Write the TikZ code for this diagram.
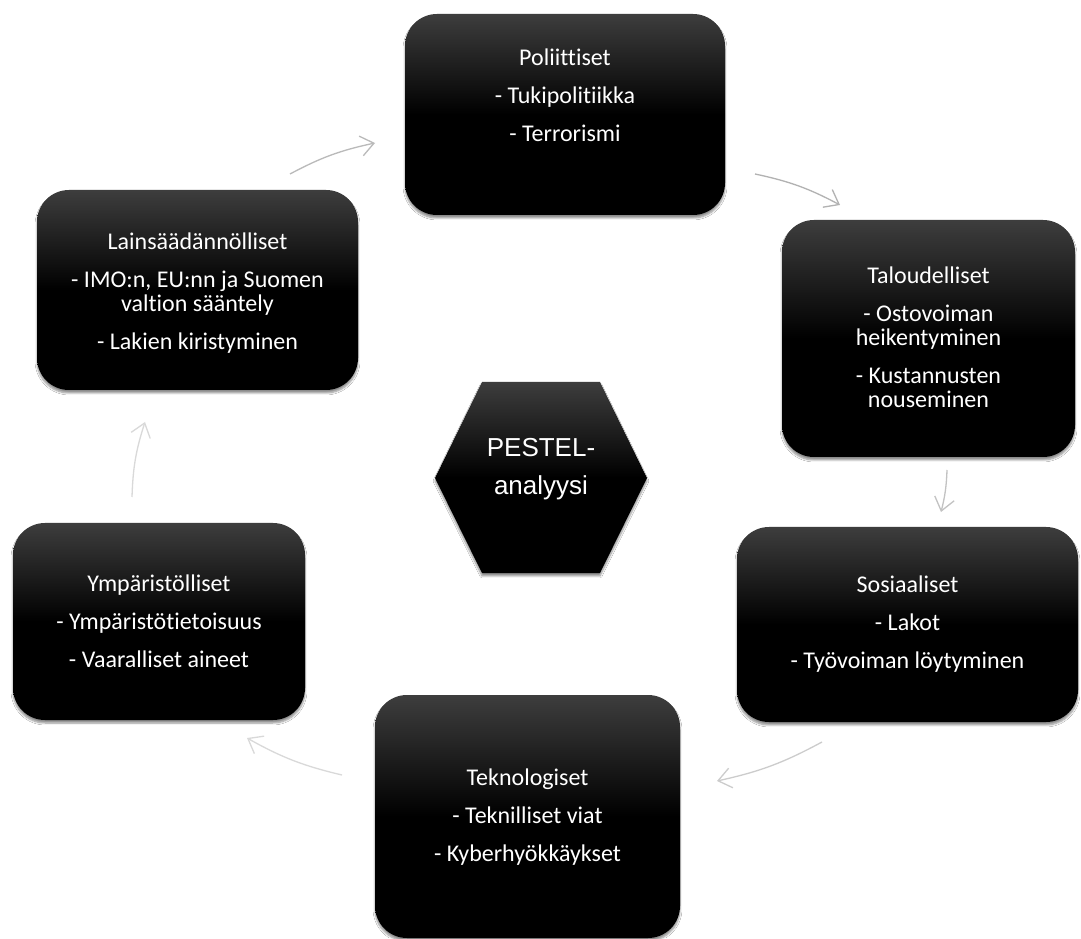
\documentclass[tikz,border=0pt]{standalone}
\usepackage{fontspec}
\setmainfont{Carlito}[Ligatures=NoCommon]
\newfontfamily\arialfont{Liberation Sans}
\usetikzlibrary{arrows.meta,shadows.blur}
\begin{document}
\begin{tikzpicture}[x=1pt,y=1pt,
  boxshade/.style={top color=black!76, bottom color=black, middle color=black,
    blur shadow={shadow xshift=0pt,shadow yshift=-3pt,shadow blur steps=6,shadow opacity=45}},
  box/.style={boxshade, rounded corners=32pt, inner sep=0pt},
  lbl/.style={text=white, align=center, font=\fontsize{24}{24}\selectfont, inner sep=0pt},
  cyc/.style={line width=1.3pt, -{Straight Barb[length=13pt,width=20pt,line width=1.3pt]}}
]
\useasboundingbox (0,0) rectangle (1081,938);
\fill[white] (0,0) rectangle (1081,938);

% boxes
\node[box, minimum width=320pt, minimum height=201pt] (pol) at (565,823.5) {};
\node[box, minimum width=293pt, minimum height=237pt] (tal) at (928.5,599.5) {};
\node[box, minimum width=341pt, minimum height=195pt] (sos) at (907.5,313.5) {};
\node[box, minimum width=305pt, minimum height=243pt] (tek) at (527.5,121.5) {};
\node[box, minimum width=292pt, minimum height=197pt] (ymp) at (159,316.5) {};
\node[box, minimum width=321pt, minimum height=200pt] (lai) at (197.5,648) {};

% hexagon
\path[boxshade] (435,460) -- (482,556) -- (600,556) -- (647,460) -- (600,365) -- (482,365) -- cycle;
\node[lbl, font=\arialfont\fontsize{26}{38}\selectfont] (pes) at (541,469) {PESTEL-\\analyysi};

% texts
\node[lbl] (polt) at (565,843) {Poliittiset\\[14pt]- Tukipolitiikka\\[14pt]- Terrorismi};
\node[lbl] (talt) at (928.5,601) {Taloudelliset\\[14pt]- Ostovoiman\\heikentyminen\\[14pt]- Kustannusten\\nouseminen};
\node[lbl] (sost) at (907.5,314) {Sosiaaliset\\[14pt]- Lakot\\[14pt]- Työvoiman löytyminen};
\node[lbl] (tekt) at (527.5,121) {Teknologiset\\[14pt]- Teknilliset viat\\[14pt]- Kyberhyökkäykset};
\node[lbl] (ympt) at (159,317) {Ympäristölliset\\[14pt]- Ympäristötietoisuus\\[14pt]- Vaaralliset aineet};
\node[lbl] (lait) at (197.5,645) {Lainsäädännölliset\\[14pt]- IMO:n, EU:nn ja Suomen\\valtion sääntely\\[14pt]- Lakien kiristyminen};

% connector end points
\coordinate (a1s) at (290,764); \coordinate (a1e) at (375,795);
\coordinate (a2s) at (755,764); \coordinate (a2e) at (840,733);
\coordinate (a3s) at (947,468); \coordinate (a3e) at (941,426);
\coordinate (a4s) at (822,196); \coordinate (a4e) at (717,157);
\coordinate (a5s) at (342,163); \coordinate (a5e) at (247,200);
\coordinate (a6s) at (132,441); \coordinate (a6e) at (145,516);

\draw[cyc, color=black!27] (a1s) to[bend left=8] (a1e);
\draw[cyc, color=black!30] (a2s) to[bend left=8] (a2e);
\draw[cyc, color=black!24] (a3s) to[bend left=6] (a3e);
\draw[cyc, color=black!20] (a4s) to[bend left=8] (a4e);
\draw[cyc, color=black!15] (a5s) to[bend left=8] (a5e);
\draw[cyc, color=black!15] (a6s) to[bend left=8] (a6e);
\end{tikzpicture}
\end{document}
